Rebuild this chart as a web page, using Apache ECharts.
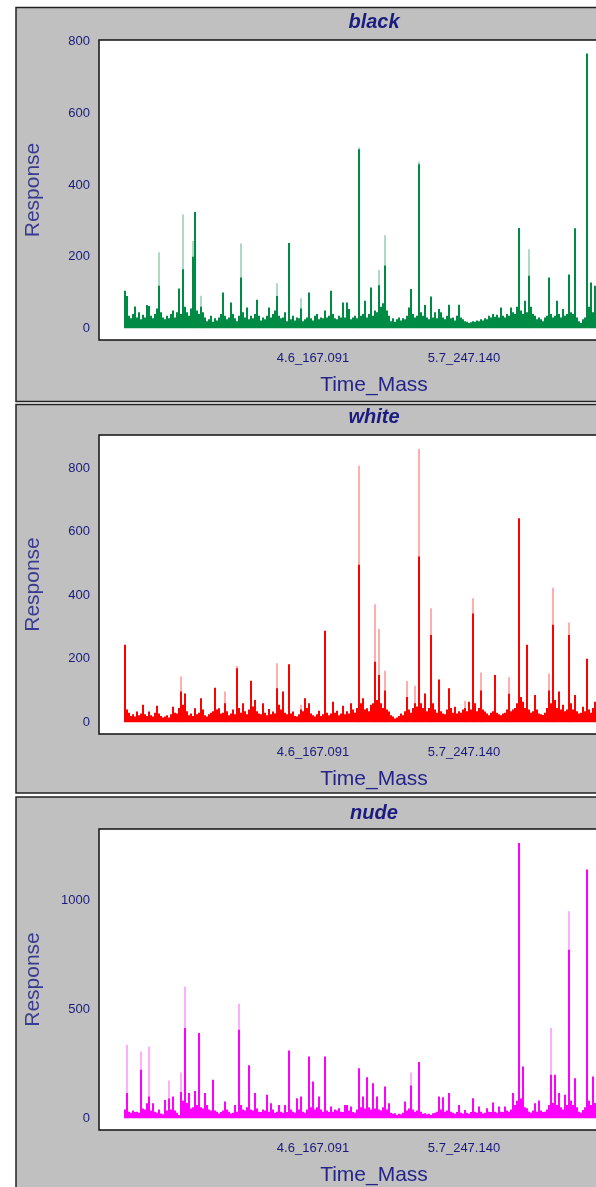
<!DOCTYPE html>
<html><head><meta charset="utf-8">
<script src="https://cdn.jsdelivr.net/npm/echarts@6/dist/echarts.min.js"></script>
<style>html,body{margin:0;padding:0;overflow:hidden;background:#fff}#c{width:700px;height:1187px}</style>
</head><body><div id="c"></div>
<script>
const panelNames = ['black', 'white', 'nude'];
const xName = 'Time_Mass';
const yName = 'Response';
const xTickIndex = [0, 95, 190];
const xLabelIndex = [94, 169.5];
const xLabels = ['4.6_167.091', '5.7_247.140'];
const blackTicks = [0, 200, 400, 600, 800];
const whiteTicks = [0, 200, 400, 600, 800];
const nudeTicks = [0, 500, 1000];

const blackSolid = [
105,90,35,28,40,61,30,45,25,38,
30,65,62,35,28,40,55,119,45,30,
25,35,28,40,50,30,45,111,40,165,
60,45,35,55,200,325,50,40,60,45,
30,20,25,35,18,28,22,30,40,100,
35,25,30,72,40,28,20,35,142,45,
30,58,25,35,28,40,80,35,22,30,
25,35,58,30,40,50,90,35,28,30,
45,20,238,25,35,22,30,28,55,20,
25,30,100,28,22,35,40,25,30,28,
50,30,35,105,40,28,25,35,30,72,
30,72,54,25,30,35,28,500,35,40,
77,30,40,114,35,50,45,120,60,70,
175,50,35,20,28,18,25,30,22,28,
25,35,58,110,40,30,35,458,45,35,
65,30,25,89,30,45,28,54,45,30,
25,35,66,28,30,22,35,66,30,25,
20,18,15,17,20,18,22,20,25,22,
28,25,35,30,40,32,38,30,58,35,
30,40,35,58,45,40,60,280,50,40,
77,45,147,60,40,35,25,30,25,20,
30,35,142,40,30,35,77,40,30,54,
35,40,150,45,40,279,30,20,15,25,
30,767,60,128,45,119,60,40,90,50
];
const blackLight = [[17,212],[29,318],[34,244],[38,91],[58,237],[76,126],[88,84],[117,505],[127,163],[130,260],[147,465],[202,221]];

const whiteSolid = [
244,40,30,20,25,18,34,22,28,55,
25,20,34,22,18,30,52,28,20,15,
18,22,15,25,49,30,28,45,97,55,
91,35,22,28,20,44,25,30,76,40,
22,18,25,30,35,109,40,44,28,30,
60,35,22,28,40,25,170,45,30,60,
35,25,40,131,50,70,35,28,25,60,
30,22,42,25,34,28,107,55,40,97,
30,25,183,28,34,20,18,25,40,35,
76,45,60,28,22,18,25,36,20,25,
288,30,22,28,65,30,36,22,28,52,
25,35,28,60,40,30,45,496,60,76,
40,44,35,55,60,191,70,149,60,45,
100,40,34,22,18,12,15,20,28,22,
35,80,40,30,45,60,50,522,60,45,
91,35,45,275,60,40,30,135,35,28,
25,40,107,45,30,49,28,35,30,40,
45,35,65,40,343,60,35,45,100,40,
34,28,22,30,35,149,30,25,22,28,
30,40,90,35,40,45,60,643,80,65,
45,244,40,30,35,86,40,28,25,23,
30,45,100,60,307,70,45,97,40,55,
35,40,275,60,40,86,35,28,30,49,
35,200,40,30,45,65,40,55,35,60
];
const whiteLight = [[28,144],[50,97],[56,177],[76,186],[88,55],[117,808],[125,372],[127,294],[130,162],[141,130],[145,115],[147,861],[153,359],[170,68],[174,391],[178,157],[192,142],[212,154],[214,424],[222,314]];

const nudeSolid = [
40,115,30,25,35,28,30,25,222,45,
40,69,100,35,69,30,25,40,22,18,
84,35,90,40,99,35,25,15,120,80,
413,70,115,45,50,125,60,390,50,45,
115,60,40,35,176,35,30,22,28,35,
76,40,30,22,25,60,30,405,60,40,
35,50,243,40,35,115,45,30,28,40,
35,107,30,69,40,25,30,61,30,25,
61,28,310,40,30,25,92,40,99,30,
25,40,283,50,168,40,50,99,40,30,
283,35,28,54,30,40,35,46,30,28,
61,61,35,54,28,25,40,229,50,99,
45,188,50,40,160,45,99,40,35,50,
145,40,69,25,20,23,15,20,18,25,
76,35,45,150,40,30,35,257,30,20,
23,18,20,15,23,25,30,99,40,96,
30,35,115,30,25,20,28,61,25,22,
38,25,20,28,92,30,25,54,30,22,
25,46,30,28,72,30,25,54,30,28,
54,35,30,40,115,60,80,1261,90,237,
50,46,30,25,35,69,30,81,35,28,
30,40,60,199,70,199,60,115,50,40,
107,60,772,80,60,183,50,30,25,38,
50,1139,80,60,191,70,115,50,40,35
];
const nudeLight = [[1,336],[8,306],[12,329],[22,173],[28,209],[30,604],[57,524],[143,209],[213,413],[222,948]];

const solids = [blackSolid, whiteSolid, nudeSolid];
const lights = [blackLight, whiteLight, nudeLight];
const ticks = [blackTicks, whiteTicks, nudeTicks];

const solidColors = ['#008b45', '#ff0000', '#ff00ff'];
const lightColors = ['rgba(0,139,69,0.32)', 'rgba(255,0,0,0.32)', 'rgba(255,0,255,0.32)'];
const gridTops = [40, 435, 829];
const gridHeights = [300, 299, 301];
const yRanges = [[-32.7, 805], [-36.9, 905], [-54, 1325]];
const boxes = [[7.5, 401.5], [404.5, 793], [797, 1230]];
const stripY = [22, 417, 813];

const textFont = '"Liberation Sans", Arial, sans-serif';
const navy = '#1a1a7c';

const grids = [], xAxes = [], yAxes = [], series = [], graphics = [];
panelNames.forEach((name, k) => {
  grids.push({left: 99, top: gridTops[k], width: 550, height: gridHeights[k], show: true,
    backgroundColor: '#fff', borderColor: '#111', borderWidth: 1.5, z: 1});
  xAxes.push({type: 'value', gridIndex: k, min: -13, max: 262,
    axisLine: {show: false}, splitLine: {show: false},
    axisTick: {show: true, customValues: xTickIndex, length: 10, lineStyle: {color: '#7f7f7f', width: 1}},
    axisLabel: {customValues: xLabelIndex, margin: 12, fontSize: 13, color: navy, fontFamily: textFont,
      formatter: v => { const j = xLabelIndex.indexOf(v); return j >= 0 ? xLabels[j] : ''; }},
    name: xName, nameLocation: 'middle', nameGap: 35,
    nameTextStyle: {fontSize: 21, color: '#24248a', fontFamily: textFont}});
  yAxes.push({type: 'value', gridIndex: k, min: yRanges[k][0], max: yRanges[k][1],
    axisLine: {show: false}, splitLine: {show: false},
    axisTick: {show: true, customValues: ticks[k], length: 9, lineStyle: {color: '#7f7f7f', width: 1}},
    axisLabel: {customValues: ticks[k], margin: 9, fontSize: 13, color: navy, fontFamily: textFont,
      formatter: v => String(v)},
    name: yName, nameLocation: 'middle', nameGap: 55, nameRotate: 90,
    nameTextStyle: {fontSize: 21, color: '#3a3a90', fontFamily: textFont}});
  series.push({type: 'bar', xAxisIndex: k, yAxisIndex: k, barWidth: 2, barGap: '-100%',
    itemStyle: {color: lightColors[k]}, data: lights[k], silent: true, z: 2});
  series.push({type: 'bar', xAxisIndex: k, yAxisIndex: k, barWidth: 2, barGap: '-100%',
    itemStyle: {color: solidColors[k]}, data: solids[k].map((v, i) => [i, v]), silent: true, z: 3});
  graphics.push({type: 'rect', z: -10, shape: {x: 16, y: boxes[k][0], width: 700, height: boxes[k][1] - boxes[k][0]},
    style: {fill: '#c0c0c0', stroke: '#222', lineWidth: 1.5}});
  graphics.push({type: 'text', z: 5, style: {text: name, x: 374, y: stripY[k], align: 'center', verticalAlign: 'middle',
    font: 'italic bold 20px ' + textFont, fill: '#1c1c80'}});
});

const chart = echarts.init(document.getElementById('c'), null, {renderer: 'canvas'});
chart.setOption({
  animation: false,
  backgroundColor: '#fff',
  grid: grids, xAxis: xAxes, yAxis: yAxes, series: series,
  graphic: {elements: graphics}
});
</script></body></html>
